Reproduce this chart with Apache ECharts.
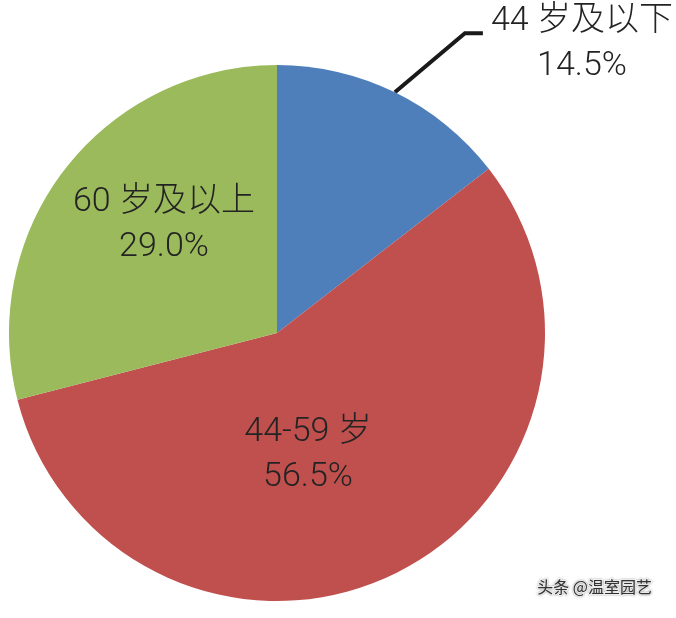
<!DOCTYPE html>
<html>
<head>
<meta charset="utf-8">
<script src="https://cdn.jsdelivr.net/npm/echarts@6/dist/echarts.min.js"></script>
<style>
html,body{margin:0;padding:0;background:#fff;}
#chart{width:676px;height:618px;}
</style>
</head>
<body>
<div id="chart"></div>
<script>
// Data
var categories = ['44 岁及以下', '44-59 岁', '60 岁及以上'];
var values = [14.5, 56.5, 29.0];
var valueLabels = ['14.5%', '56.5%', '29.0%'];
var colors = ['#4f7fbb', '#c0504e', '#9bba5c'];

// label placement (styling only)
var labelPos = [[582, 44], [308, 455], [164, 225]];

var chart = echarts.init(document.getElementById('chart'), null, {renderer: 'canvas'});

var data = categories.map(function (c, i) {
  return {
    name: c,
    value: values[i],
    itemStyle: {color: colors[i]},
    label: {position: i === 0 ? 'outside' : 'inside'},
    labelLine: {show: i === 0}
  };
});

var option = {
  animation: false,
  backgroundColor: '#ffffff',
  title: {
    text: '头条 @温室园艺',
    right: 17,
    bottom: 16,
    textStyle: {
      fontFamily: 'Noto Sans CJK SC',
      fontSize: 16,
      fontWeight: 'normal',
      color: '#333333',
      textBorderColor: '#ffffff',
      textBorderWidth: 2,
      textShadowColor: 'rgba(0,0,0,0.35)',
      textShadowBlur: 2
    }
  },
  series: [{
    type: 'pie',
    center: [277, 333],
    radius: 268,
    startAngle: 90,
    clockwise: true,
    silent: true,
    data: data,
    itemStyle: {borderWidth: 0},
    label: {
      show: true,
      formatter: function (p) { return p.name + '\n' + valueLabels[p.dataIndex]; },
      fontFamily: 'Roboto, Noto Sans CJK SC',
      fontSize: 34,
      fontWeight: 300,
      lineHeight: 45,
      color: '#232323',
      align: 'center'
    },
    labelLine: {
      show: true,
      lineStyle: {color: '#1a1a1a', width: 4},
      length: 20,
      length2: 20
    },
    labelLayout: function (p) {
      var pos = labelPos[p.dataIndex];
      var res = {x: pos[0], y: pos[1], align: 'center', verticalAlign: 'middle'};
      if (p.dataIndex === 0 && p.labelLinePoints) {
        var s = p.labelLinePoints[0];
        res.labelLinePoints = [[s[0], s[1]], [s[0] + 70, s[1] - 59], [s[0] + 88, s[1] - 59]];
      }
      return res;
    }
  }]
};
chart.setOption(option);
</script>
</body>
</html>
